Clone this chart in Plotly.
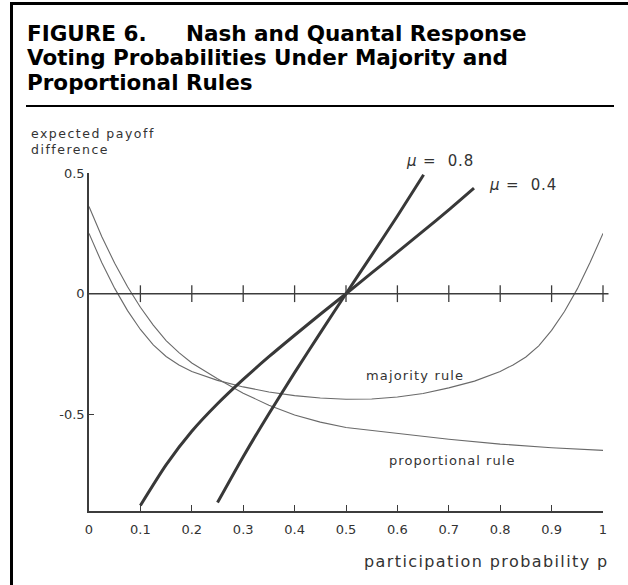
import plotly.graph_objects as go

# ---------------- data ----------------
majority_p = [0, 0.025, 0.05, 0.075, 0.1, 0.125, 0.15, 0.175, 0.2, 0.25, 0.3, 0.35, 0.4, 0.45, 0.5,
              0.55, 0.6, 0.65, 0.7, 0.75, 0.8, 0.825, 0.85, 0.875, 0.9, 0.925, 0.95, 0.975, 1.0]
majority_y = [0.25, 0.128, 0.022, -0.07, -0.148, -0.212, -0.26, -0.295, -0.322, -0.359, -0.386, -0.407,
              -0.422, -0.432, -0.437, -0.436, -0.428, -0.413, -0.39, -0.362, -0.322, -0.295, -0.262,
              -0.216, -0.152, -0.074, 0.02, 0.13, 0.25]

proportional_p = [0, 0.025, 0.05, 0.075, 0.1, 0.125, 0.15, 0.175, 0.2, 0.25, 0.3, 0.35, 0.4, 0.45, 0.5,
                  0.6, 0.7, 0.8, 0.9, 1.0]
proportional_y = [0.361, 0.236, 0.126, 0.029, -0.056, -0.13, -0.194, -0.244, -0.287, -0.352, -0.412,
                  -0.462, -0.502, -0.532, -0.554, -0.58, -0.603, -0.623, -0.638, -0.649]

mu04_p = [0.1, 0.15, 0.2, 0.25, 0.3, 0.35, 0.4, 0.45, 0.5, 0.55, 0.6, 0.65, 0.7, 0.749]
mu04_y = [-0.877, -0.709, -0.57, -0.456, -0.355, -0.261, -0.172, -0.085, 0.0, 0.086, 0.172, 0.259, 0.347, 0.437]

mu08_p = [0.25, 0.3, 0.35, 0.4, 0.45, 0.5, 0.55, 0.6, 0.651]
mu08_y = [-0.865, -0.675, -0.497, -0.327, -0.162, 0.0, 0.16, 0.322, 0.493]

x_ticks = [0, 0.1, 0.2, 0.3, 0.4, 0.5, 0.6, 0.7, 0.8, 0.9, 1.0]
x_tick_labels = ["0", "0.1", "0.2", "0.3", "0.4", "0.5", "0.6", "0.7", "0.8", "0.9", "1"]
y_ticks = [-0.5, 0, 0.5]
y_tick_labels = ["-0.5", "0", "0.5"]
zero_line_ticks = [0.1, 0.2, 0.3, 0.4, 0.5, 0.6, 0.7, 0.8, 0.9, 1.0]

title_head = "FIGURE 6."
title_lines = ["Nash and Quantal Response",
               "Voting Probabilities Under Majority and",
               "Proportional Rules"]

# ---------------- layout helpers ----------------
W, H = 628, 585
PL, PR, PT, PB = 89, 603, 173, 511

def px_x(p):
    return (p - PL) / (PR - PL)

def px_y(p):
    return (PB - p) / (PB - PT)

FONT = "DejaVu Sans"
AX = "#3c3c3c"
THIN = "#6a6a6a"
THICK = "#383838"

fig = go.Figure()

fig.add_trace(go.Scatter(x=majority_p, y=majority_y, mode="lines",
                         line=dict(color=THIN, width=1.1), hoverinfo="skip"))
fig.add_trace(go.Scatter(x=proportional_p, y=proportional_y, mode="lines",
                         line=dict(color=THIN, width=1.1), hoverinfo="skip"))
fig.add_trace(go.Scatter(x=mu04_p, y=mu04_y, mode="lines",
                         line=dict(color=THICK, width=3, shape="spline", smoothing=0.6), hoverinfo="skip"))
fig.add_trace(go.Scatter(x=mu08_p, y=mu08_y, mode="lines",
                         line=dict(color=THICK, width=3, shape="spline", smoothing=0.6), hoverinfo="skip"))

# tick marks crossing the zero line
fig.add_trace(go.Scatter(x=zero_line_ticks, y=[0] * len(zero_line_ticks), mode="markers",
                         marker=dict(symbol="line-ns", size=12, line=dict(color=AX, width=1.3)),
                         cliponaxis=False, hoverinfo="skip"))

shapes = [
    # zero line (extends slightly past p = 1)
    dict(type="line", xref="paper", yref="y", x0=0, x1=px_x(608.5), y0=0, y1=0,
         line=dict(color=AX, width=1.5)),
    # frame
    dict(type="line", xref="paper", yref="paper", x0=px_x(11.5), x1=px_x(11.5), y0=px_y(2), y1=px_y(586),
         line=dict(color="black", width=3)),
    dict(type="line", xref="paper", yref="paper", x0=px_x(10), x1=px_x(629), y0=px_y(3.5), y1=px_y(3.5),
         line=dict(color="black", width=3)),
    # rule under title
    dict(type="line", xref="paper", yref="paper", x0=px_x(26), x1=px_x(614), y0=px_y(106), y1=px_y(106),
         line=dict(color="black", width=2)),
]

TITLE_FONT = dict(family="DejaVu Sans", size=21.5, color="black")
annotations = [
    dict(text="<b>" + title_head + "</b>", xref="paper", yref="paper", x=px_x(25), y=px_y(33),
         xanchor="left", yanchor="middle", align="left", showarrow=False, font=TITLE_FONT),
]
title_pos = [(184, 33), (25, 58), (25, 83)]
for txt, (lx, cy) in zip(title_lines, title_pos):
    annotations.append(dict(text="<b>" + txt + "</b>", xref="paper", yref="paper", x=px_x(lx), y=px_y(cy),
                            xanchor="left", yanchor="middle", align="left", showarrow=False, font=TITLE_FONT))

LAB = dict(family=FONT, color="#333")
annotations += [
    dict(text="expected payoff<br>difference", xref="paper", yref="paper", x=px_x(29), y=px_y(141),
         xanchor="left", yanchor="middle", align="left", showarrow=False, font=dict(LAB, size=12.5)),
    dict(text="participation probability p", xref="paper", yref="paper", x=px_x(362), y=px_y(561),
         xanchor="left", yanchor="middle", align="left", showarrow=False, font=dict(LAB, size=16)),
    dict(text="majority rule", xref="paper", yref="paper", x=px_x(364), y=px_y(375),
         xanchor="left", yanchor="middle", align="left", showarrow=False, font=dict(LAB, size=13)),
    dict(text="proportional rule", xref="paper", yref="paper", x=px_x(387), y=px_y(460),
         xanchor="left", yanchor="middle", align="left", showarrow=False, font=dict(LAB, size=13)),
    dict(text="<i>\u03bc</i> =\u00a0\u00a00.8", xref="paper", yref="paper", x=px_x(404), y=px_y(161),
         xanchor="left", yanchor="middle", align="left", showarrow=False, font=dict(LAB, size=15)),
    dict(text="<i>\u03bc</i> =\u00a0\u00a00.4", xref="paper", yref="paper", x=px_x(487), y=px_y(185),
         xanchor="left", yanchor="middle", align="left", showarrow=False, font=dict(LAB, size=15)),
]

fig.update_layout(
    width=W, height=H,
    margin=dict(l=PL, r=W - PR, t=PT, b=H - PB, pad=0),
    paper_bgcolor="white", plot_bgcolor="white",
    showlegend=False,
    shapes=shapes,
    annotations=annotations,
    xaxis=dict(range=[0, 1], tickvals=x_ticks, ticktext=x_tick_labels, ticks="inside", ticklen=6,
               tickwidth=1.3, tickcolor=AX, showline=True, linecolor=AX, linewidth=1.5,
               showgrid=False, zeroline=False, tickfont=dict(family=FONT, size=13, color="#333"),
               ticklabelstandoff=6, fixedrange=True),
    yaxis=dict(range=[-0.9, 0.5], tickvals=y_ticks, ticktext=y_tick_labels, ticks="inside", ticklen=5,
               tickwidth=1.3, tickcolor=AX, showline=True, linecolor=AX, linewidth=1.5,
               showgrid=False, zeroline=False, tickfont=dict(family=FONT, size=13, color="#333"),
               fixedrange=True),
)

post = """
document.body.style.margin = '0';
var gd = document.getElementById('{plot_id}');
var ls = [['participation', 1.4], ['majority', 1.15], ['proportional', 1.05], ['expected', 1.5], ['\\u03bc', 0.85]];
gd.querySelectorAll('.annotation-text').forEach(function (t) {
  var s = t.textContent;
  ls.forEach(function (p) { if (s.indexOf(p[0]) >= 0) { t.style.letterSpacing = p[1] + 'px'; } });
});
"""

fig.write_html("out.html", post_script=post, config={"displayModeBar": False})
